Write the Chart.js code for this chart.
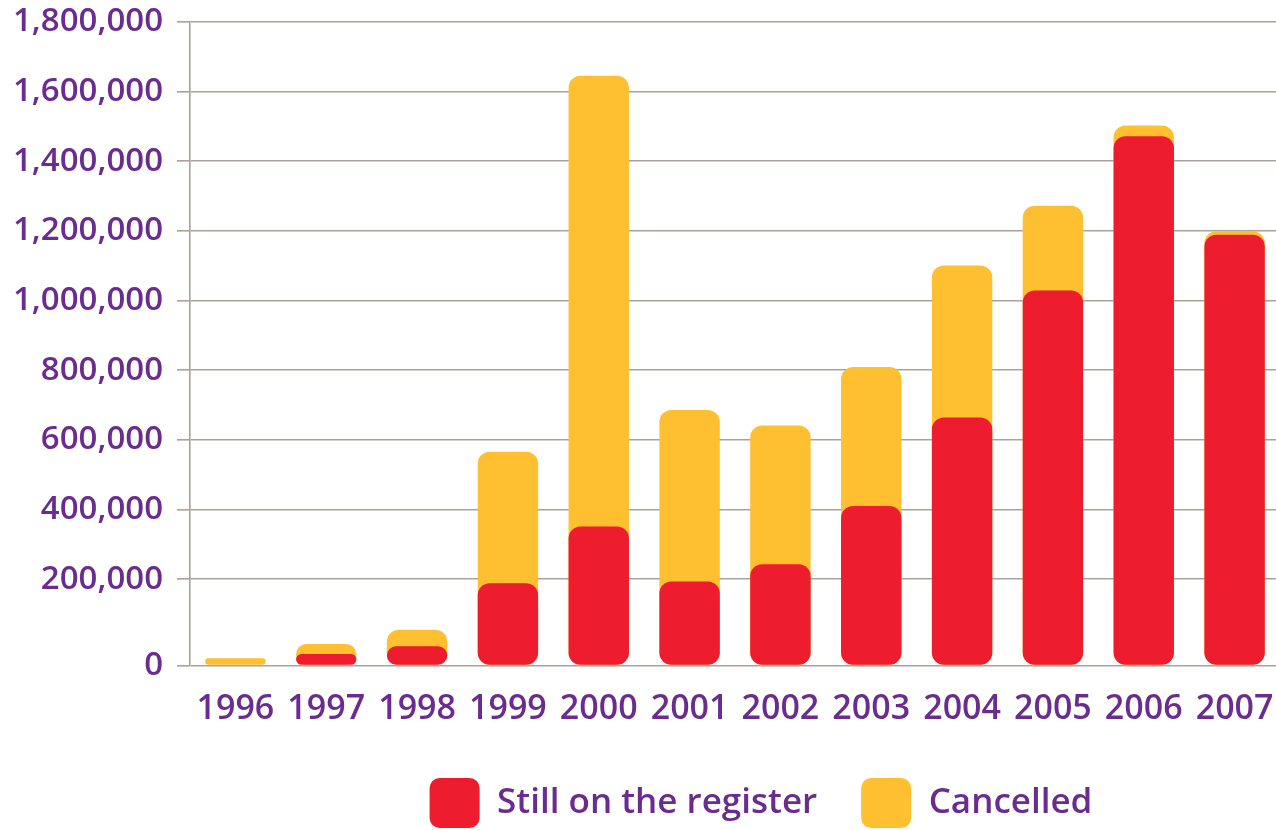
<!DOCTYPE html>
<html>
<head>
<meta charset="utf-8">
<script src="https://cdn.jsdelivr.net/npm/chart.js@4.4.1/dist/chart.umd.min.js"></script>
<style>
  html, body { margin: 0; padding: 0; overflow: hidden; background: #ffffff; }
  canvas { display: block; }
</style>
</head>
<body>
<canvas id="c" width="1280" height="838"></canvas>
<script>
// ---- data ----
const years = ['1996', '1997', '1998', '1999', '2000', '2001', '2002', '2003', '2004', '2005', '2006', '2007'];
const stillOnRegister = [0, 33000, 55000, 236000, 399000, 241000, 291000, 458000, 712000, 1077000, 1520000, 1237000];
const cancelled = [21000, 29000, 48000, 378000, 1295000, 493000, 398000, 399000, 437000, 243000, 31000, 10000];
const tickValues = [0, 200000, 400000, 600000, 800000, 1000000, 1200000, 1400000, 1600000, 1800000];
const tickLabels = ['0', '200,000', '400,000', '600,000', '800,000', '1,000,000', '1,200,000', '1,400,000', '1,600,000', '1,800,000'];
const seriesNames = ['Still on the register', 'Cancelled'];

// the original draws its gridlines raised above the bar baseline by this amount
const GRID_OFFSET = 48000;
const AXIS_MAX = 1848000;

const totals = stillOnRegister.map((v, i) => v + cancelled[i]);

// ---- styles ----
const RED = '#ED1C2E';
const YELLOW = '#FEBF31';
const PURPLE = '#6B2C8F';
const GRID = '#A9A19A';
const Y_FONT = { family: "'Open Sans', sans-serif", size: 33, weight: '600' };
const X_FONT = { family: "'Open Sans', sans-serif", size: 34, weight: '600' };
const LEGEND_FONT = { family: "'Open Sans', sans-serif", size: 35, weight: '600' };

const legendShift = {
  id: 'legendShift',
  afterLayout(chart) {
    const l = chart.legend;
    if (l) { l.left += 121; l.right += 121; }
  }
};

const barCommon = {
  grouped: false,
  borderRadius: 12,
  borderSkipped: false,
  barPercentage: 0.665,
  categoryPercentage: 1
};

new Chart(document.getElementById('c'), {
  type: 'bar',
  data: {
    labels: years,
    datasets: [
      Object.assign({ label: seriesNames[0], data: stillOnRegister, backgroundColor: RED }, barCommon),
      Object.assign({ label: seriesNames[1], data: totals, backgroundColor: YELLOW }, barCommon)
    ]
  },
  plugins: [legendShift],
  options: {
    responsive: false,
    animation: false,
    layout: { padding: { top: 0, left: 0, right: 0, bottom: 0 } },
    plugins: {
      tooltip: { enabled: false },
      legend: {
        position: 'bottom',
        labels: {
          boxWidth: 50,
          boxHeight: 50,
          useBorderRadius: true,
          borderRadius: 10,
          padding: 44,
          color: PURPLE,
          font: LEGEND_FONT
        }
      }
    },
    scales: {
      x: {
        grid: { display: false, drawTicks: false },
        border: { display: false },
        ticks: { color: PURPLE, font: X_FONT, padding: 23, maxRotation: 0, autoSkip: false },
        afterFit(s) { s.height = 68.5; s.paddingLeft = 0; s.paddingRight = 0; }
      },
      y: {
        min: 0,
        max: AXIS_MAX,
        grid: { color: GRID, lineWidth: 1.6, tickLength: 13, drawTicks: true },
        border: { color: GRID, width: 1.6 },
        ticks: {
          color: PURPLE,
          font: Y_FONT,
          padding: 14,
          callback: (value, index) => tickLabels[index]
        },
        afterBuildTicks(s) {
          s.ticks = tickValues.map(v => ({ value: v === 0 ? 0 : v + GRID_OFFSET }));
        },
        afterFit(s) { s.width = 190; s.paddingTop = 22; s.paddingBottom = 0; }
      }
    }
  }
});
</script>
</body>
</html>
